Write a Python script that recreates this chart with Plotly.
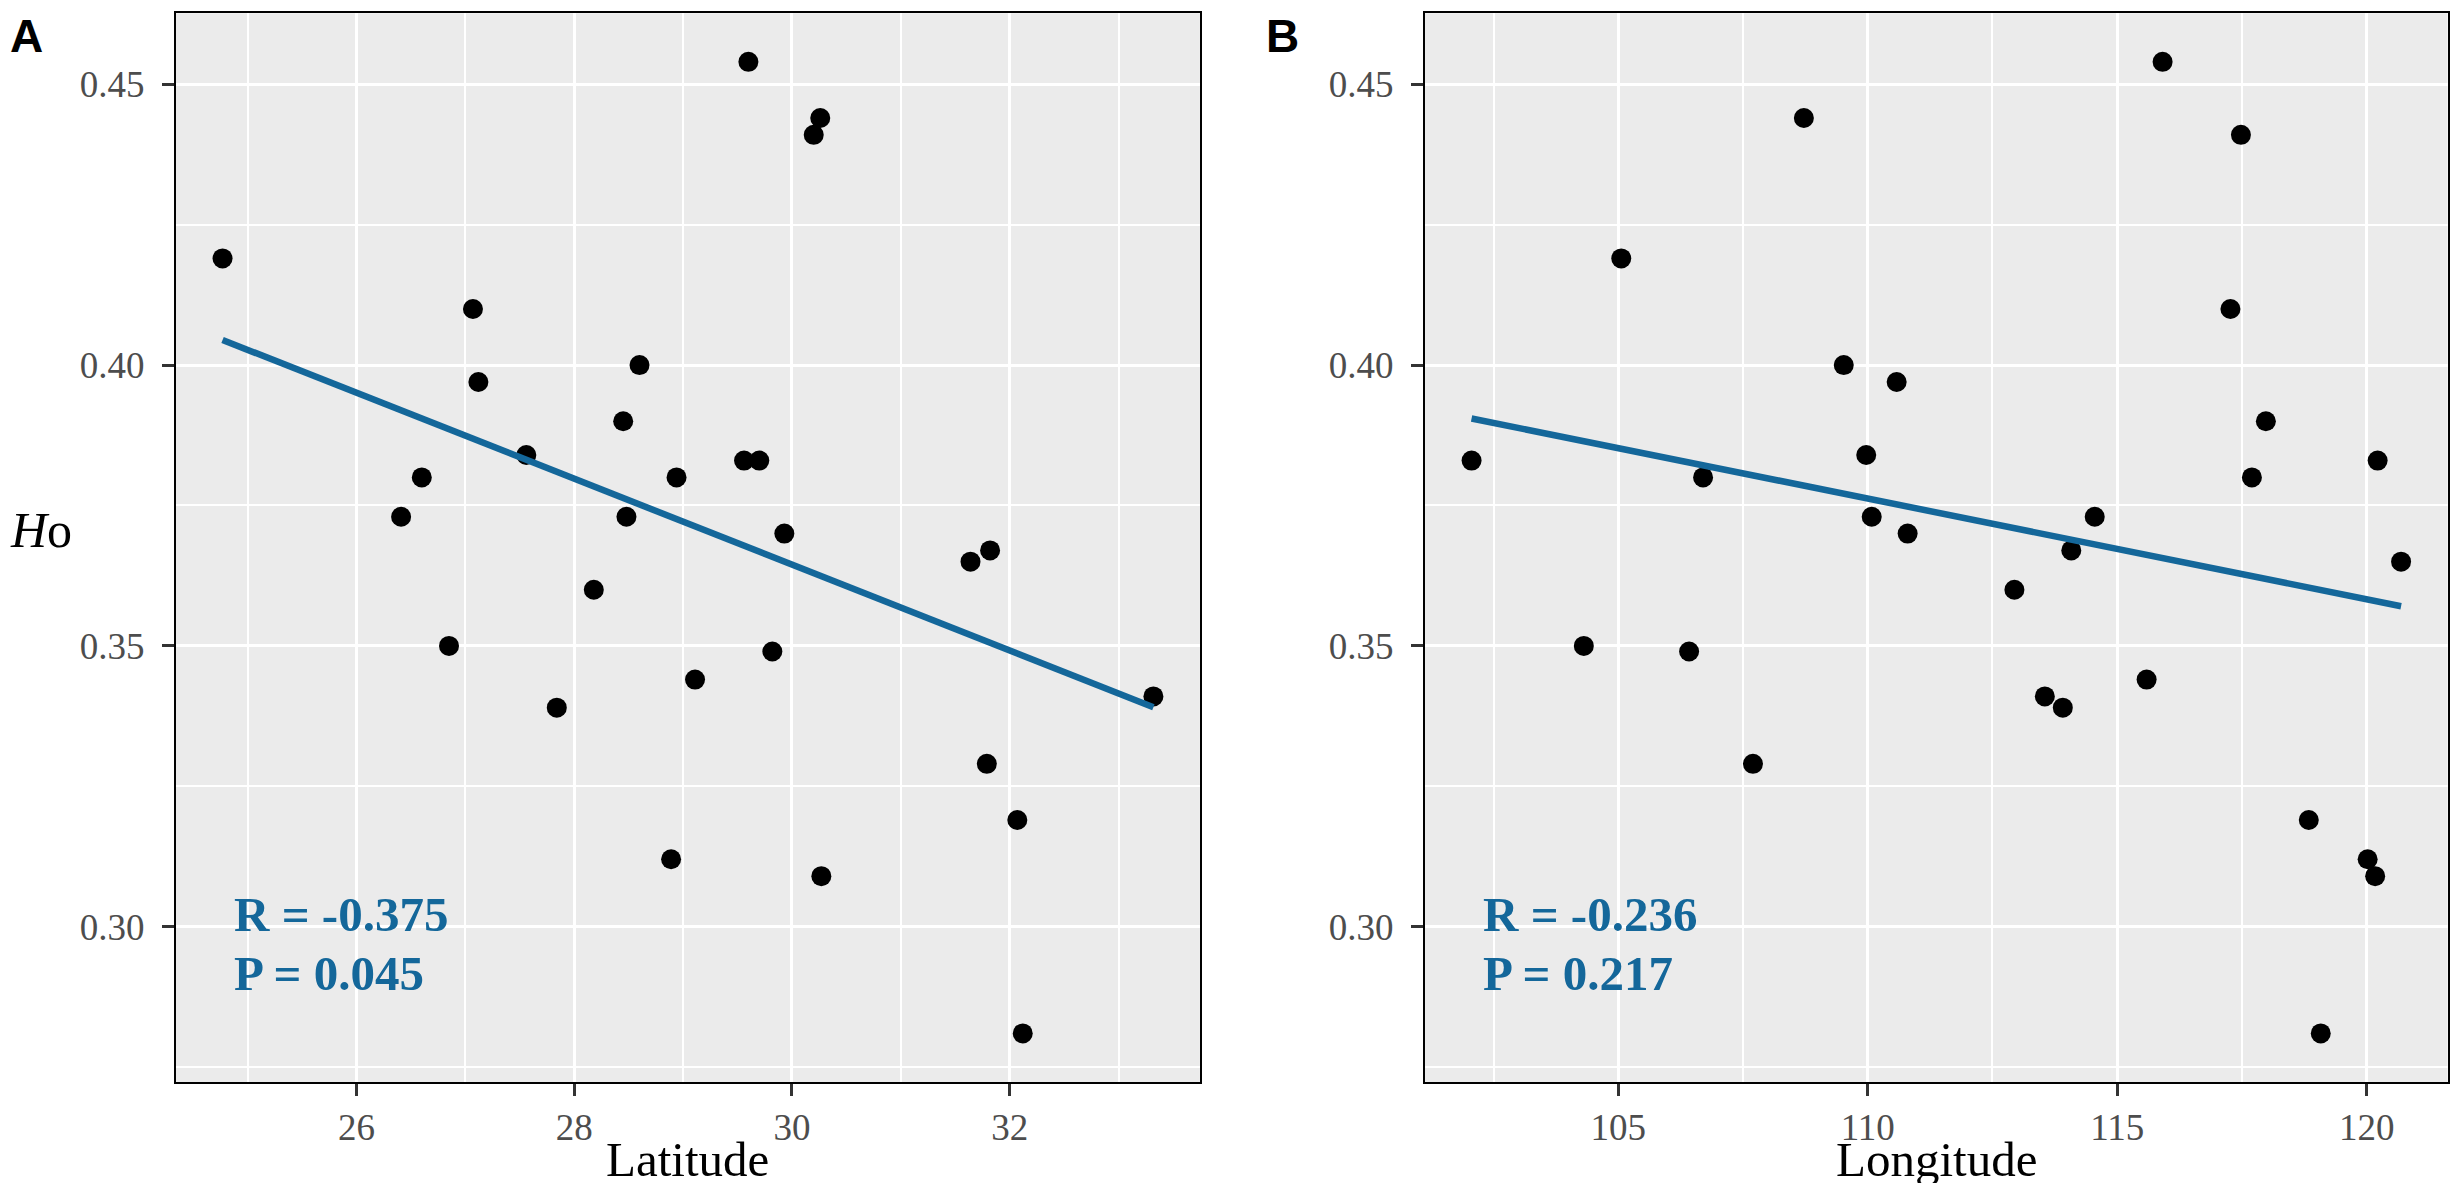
import numpy as np
import plotly.graph_objects as go

# Observed heterozygosity (Ho) per population, with site latitude / longitude
latitude = [24.77, 26.41, 26.60, 26.85, 27.07, 27.12, 27.56, 27.84, 28.18, 28.45,
            28.48, 28.60, 28.89, 28.94, 29.11, 29.60, 30.26, 30.20, 29.56, 29.70,
            29.93, 29.82, 30.27, 31.64, 31.82, 31.79, 32.07, 32.12, 33.32]
ho_lat = [0.419, 0.373, 0.380, 0.350, 0.410, 0.397, 0.384, 0.339, 0.360, 0.390,
          0.373, 0.400, 0.312, 0.380, 0.344, 0.454, 0.444, 0.441, 0.383, 0.383,
          0.370, 0.349, 0.309, 0.365, 0.367, 0.329, 0.319, 0.281, 0.341]

longitude = [102.06, 104.31, 105.06, 106.42, 106.70, 107.70, 108.72, 109.52, 109.97, 110.08,
             110.58, 110.80, 112.94, 113.55, 113.91, 114.08, 114.55, 115.59, 115.91, 117.27,
             117.48, 117.70, 117.98, 118.84, 119.08, 120.02, 120.17, 120.22, 120.69]
ho_lon = [0.383, 0.350, 0.419, 0.349, 0.380, 0.329, 0.444, 0.400, 0.384, 0.373,
          0.397, 0.370, 0.360, 0.341, 0.339, 0.367, 0.373, 0.344, 0.454, 0.410,
          0.441, 0.380, 0.390, 0.319, 0.281, 0.312, 0.309, 0.383, 0.365]

stats_lat = ["R = -0.375", "P = 0.045"]
stats_lon = ["R = -0.236", "P = 0.217"]

y_ticks = [0.30, 0.35, 0.40, 0.45]
y_ticklabels = ["0.30", "0.35", "0.40", "0.45"]

BLUE = "#14679a"
SERIF = "Liberation Serif"

# the page body has an 8px margin, so size the figure to fit the window
W, H = 2442, 1175


def padded(vals, frac=0.05):
    lo, hi = min(vals), max(vals)
    pad = (hi - lo) * frac
    return [lo - pad, hi + pad]


def fit_line(x, y):
    slope, icpt = np.polyfit(x, y, 1)
    xs = np.array([min(x), max(x)])
    return xs, slope * xs + icpt


fig = go.Figure()

for i, (xv, yv) in enumerate([(latitude, ho_lat), (longitude, ho_lon)], start=1):
    xa = "x" if i == 1 else "x2"
    ya = "y" if i == 1 else "y2"
    fig.add_trace(go.Scatter(x=xv, y=yv, mode="markers", xaxis=xa, yaxis=ya,
                             marker=dict(color="black", size=20), showlegend=False))
    lx, ly = fit_line(xv, yv)
    fig.add_trace(go.Scatter(x=lx, y=ly, mode="lines", xaxis=xa, yaxis=ya,
                             line=dict(color=BLUE, width=6.5), showlegend=False))

axis_common = dict(
    showline=True, linecolor="black", linewidth=2.2, mirror=True,
    ticks="outside", ticklen=12, tickwidth=3, tickcolor="#333333",
    tickfont=dict(family=SERIF, size=37, color="#4d4d4d"),
    showgrid=True, gridcolor="white", gridwidth=3,
    zeroline=False,
)
minor_grid = dict(showgrid=True, gridcolor="white", gridwidth=1.5, ticks="")
y_common = dict(axis_common, tickvals=y_ticks, ticktext=y_ticklabels, ticklabelstandoff=10,
                range=padded(ho_lat), minor=dict(minor_grid, dtick=0.025, tick0=0.275))

dom_a = [0.0688, 0.4881]
dom_b = [0.5803, 0.9990]
dom_y = [0.086, 0.9955]

fig.update_layout(
    width=W, height=H,
    margin=dict(l=0, r=0, t=0, b=0),
    plot_bgcolor="#ebebeb", paper_bgcolor="white",
    xaxis=dict(axis_common, domain=dom_a, range=padded(latitude),
               dtick=2, tick0=0, minor=dict(minor_grid, dtick=1)),
    yaxis=dict(y_common, domain=dom_y),
    xaxis2=dict(axis_common, domain=dom_b, range=padded(longitude),
                dtick=5, tick0=0, anchor="y2", minor=dict(minor_grid, dtick=2.5)),
    yaxis2=dict(y_common, domain=dom_y, anchor="x2"),
)

# x-axis titles
for title, dom in [("Latitude", dom_a), ("Longitude", dom_b)]:
    fig.add_annotation(x=sum(dom) / 2, y=0.0196, xref="paper", yref="paper", text=title,
                       showarrow=False, xanchor="center", yanchor="middle",
                       font=dict(family=SERIF, size=49, color="black"))

# R / P labels
for xa, ya, xv, lines in [("x", "y", latitude, stats_lat), ("x2", "y2", longitude, stats_lon)]:
    x0 = padded(xv)[0] + (max(xv) - min(xv)) * 0.06
    for txt, yy in zip(lines, [0.3022, 0.2917]):
        fig.add_annotation(x=x0, y=yy, xref=xa, yref=ya, text="<b>%s</b>" % txt,
                           showarrow=False, xanchor="left", yanchor="middle",
                           font=dict(family=SERIF, size=49, color=BLUE))

# y-axis title (horizontal, only panel A)
fig.add_annotation(x=0.0, y=0.556, xref="paper", yref="paper", text="<i>H</i>o",
                   showarrow=False, xanchor="left", yanchor="middle",
                   font=dict(family=SERIF, size=50, color="black"))

# panel tags
for tag, px in [("A", 0.0), ("B", 0.5145)]:
    fig.add_annotation(x=px, y=1.0, xref="paper", yref="paper", text="<b>%s</b>" % tag,
                       showarrow=False, xanchor="left", yanchor="top",
                       font=dict(family="Liberation Sans", size=46, color="black"))

fig.write_html("out.html")
